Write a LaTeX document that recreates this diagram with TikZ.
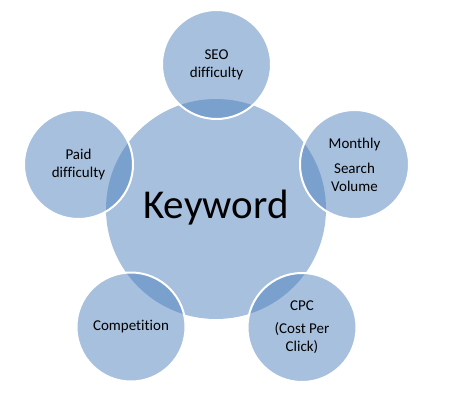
\documentclass[tikz,border=0pt]{standalone}
\usepackage{fontspec}
\setmainfont[Ligatures={NoCommon}]{Carlito}
\definecolor{kblue}{HTML}{4F81BD}
\begin{document}
\begin{tikzpicture}[x=1pt,y=-1pt,
  hub/.style={circle,fill=kblue,fill opacity=0.5,text opacity=1,minimum size=220pt,inner sep=0pt,font=\fontsize{42}{48}\selectfont},
  sat/.style={circle,fill=kblue,fill opacity=0.5,text opacity=1,draw=white,draw opacity=1,line width=2pt,minimum size=109pt,inner sep=0pt,align=center,font=\fontsize{15}{18}\selectfont}]
\useasboundingbox (0,0) rectangle (452,402);
\node[hub] (kw) at (216,209) {};
\node[sat] (seo) at (216.5,64.5) {SEO\\difficulty};
\node[sat] (msv) at (354.5,164.5) {Monthly\\[7pt]Search\\Volume};
\node[sat] (cpc) at (302,327.5) {CPC\\[5pt](Cost Per\\Click)};
\node[sat] (comp) at (131,327) {Competition};
\node[sat] (paid) at (78.5,164.5) {Paid\\difficulty};
\node[font=\fontsize{41}{48}\selectfont] (kwt) at (216,208) {Keyword};
\end{tikzpicture}
\end{document}
